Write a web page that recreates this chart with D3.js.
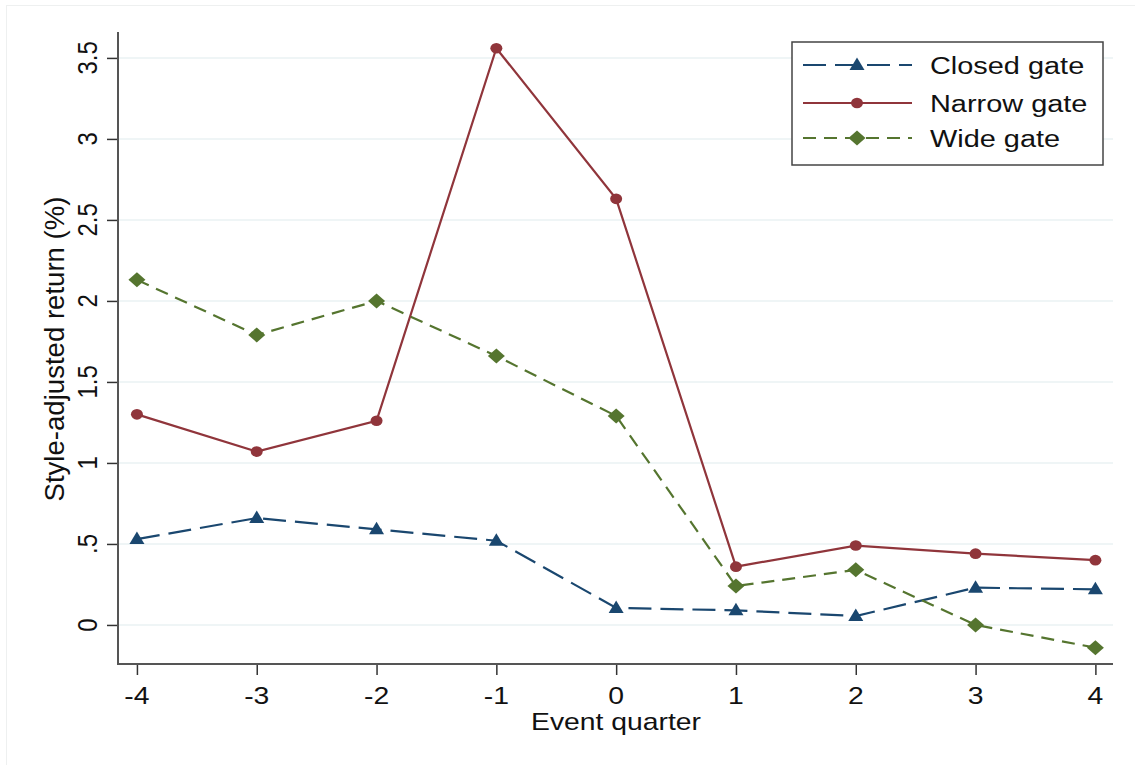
<!DOCTYPE html>
<html>
<head>
<meta charset="utf-8">
<script src="https://cdn.jsdelivr.net/npm/d3@7"></script>
<style>
  html, body { margin: 0; padding: 0; background: #fff; }
  svg { display: block; }
  text { font-family: "Liberation Sans", Arial, sans-serif; fill: #111; }
</style>
</head>
<body>
<svg id="chart" width="1135" height="765"></svg>
<script>
// ---- data ----
const quarters = [-4, -3, -2, -1, 0, 1, 2, 3, 4];
const closedGate = [0.53, 0.66, 0.59, 0.52, 0.105, 0.09, 0.055, 0.23, 0.22];
const narrowGate = [1.30, 1.07, 1.26, 3.56, 2.63, 0.36, 0.49, 0.44, 0.40];
const wideGate   = [2.13, 1.79, 2.00, 1.66, 1.29, 0.24, 0.34, 0.00, -0.14];
const yTicks = [0, 0.5, 1, 1.5, 2, 2.5, 3, 3.5];
const yTickLabels = ["0", ".5", "1", "1.5", "2", "2.5", "3", "3.5"];
const xTicks = [-4, -3, -2, -1, 0, 1, 2, 3, 4];
const seriesNames = ["Closed gate", "Narrow gate", "Wide gate"];

(function () {
const SX = 1.18; // horizontal text stretch of the original picture
const svg = d3.select("#chart");

// faint outer frame
svg.append("line").attr("x1", 6).attr("x2", 1135).attr("y1", 5.5).attr("y2", 5.5)
  .attr("stroke", "#eef0f0").attr("stroke-width", 1);
svg.append("line").attr("x1", 6.5).attr("x2", 6.5).attr("y1", 5).attr("y2", 765)
  .attr("stroke", "#eef0f0").attr("stroke-width", 1);

const pLeft = 118, pRight = 1113, pTop = 32, pBottom = 664;
const x = d3.scaleLinear().domain([-4.158, 4.147]).range([pLeft, pRight]);
const y = d3.scaleLinear().domain([-0.241, 3.66]).range([pBottom, pTop]);

// gridlines
svg.append("g").selectAll("line").data(yTicks).join("line")
  .attr("x1", pLeft).attr("x2", pRight)
  .attr("y1", d => y(d)).attr("y2", d => y(d))
  .attr("stroke", "#eaf2f3").attr("stroke-width", 1.5);

// axes
const yAxis = d3.axisLeft(y).tickValues(yTicks).tickSize(11).tickFormat("");
const gy = svg.append("g").attr("transform", `translate(${pLeft},0)`).call(yAxis);
gy.select(".domain").remove();
gy.selectAll(".tick line").attr("stroke", "#333").attr("stroke-width", 1.5);

const xAxis = d3.axisBottom(x).tickValues(xTicks).tickSize(11).tickFormat("");
const gx = svg.append("g").attr("transform", `translate(0,${pBottom})`).call(xAxis);
gx.select(".domain").remove();
gx.selectAll(".tick line").attr("stroke", "#333").attr("stroke-width", 1.5);

// axis lines
svg.append("path")
  .attr("d", `M${pLeft},${pTop}V${pBottom}H${pRight}`)
  .attr("fill", "none").attr("stroke", "#555").attr("stroke-width", 2);

// y tick labels (rotated)
svg.append("g").selectAll("text").data(yTicks).join("text")
  .attr("transform", (d) => `translate(97,${y(d)}) scale(${SX},1) rotate(-90)`)
  .attr("text-anchor", "middle")
  .attr("font-size", 24)
  .text((d, i) => yTickLabels[i]);

// x tick labels
svg.append("g").selectAll("text").data(xTicks).join("text")
  .attr("transform", d => `translate(${x(d)},704) scale(${SX},1)`)
  .attr("text-anchor", "middle")
  .attr("font-size", 24)
  .text(d => d);

// axis titles
svg.append("text")
  .attr("transform", `translate(616,730) scale(${SX},1)`)
  .attr("text-anchor", "middle").attr("font-size", 24)
  .text("Event quarter");
svg.append("text")
  .attr("transform", `translate(64,349) scale(${SX},1) rotate(-90)`)
  .attr("text-anchor", "middle").attr("font-size", 24)
  .attr("textLength", 305).attr("lengthAdjust", "spacingAndGlyphs")
  .text("Style-adjusted return (%)");

// series
const series = [
  { name: seriesNames[0], values: closedGate, color: "#1a476f", dash: "23 9", marker: "triangle" },
  { name: seriesNames[1], values: narrowGate, color: "#90353b", dash: null, marker: "circle" },
  { name: seriesNames[2], values: wideGate, color: "#55752f", dash: "13 8", marker: "diamond" }
];

function drawMarker(g, type, cx, cy, color) {
  if (type === "circle") {
    g.append("ellipse").attr("cx", cx).attr("cy", cy).attr("rx", 6).attr("ry", 5.3).attr("fill", color);
  } else if (type === "triangle") {
    g.append("path").attr("d", `M${cx},${cy - 7.5}L${cx + 7.5},${cy + 5}L${cx - 7.5},${cy + 5}Z`).attr("fill", color);
  } else {
    g.append("path").attr("d", `M${cx},${cy - 7.5}L${cx + 8.5},${cy}L${cx},${cy + 7.5}L${cx - 8.5},${cy}Z`).attr("fill", color);
  }
}

const line = d3.line().x((d, i) => x(quarters[i])).y(d => y(d));
series.forEach(s => {
  const g = svg.append("g");
  g.append("path").datum(s.values)
    .attr("d", line)
    .attr("fill", "none").attr("stroke", s.color).attr("stroke-width", 2.2)
    .attr("stroke-dasharray", s.dash);
  s.values.forEach((v, i) => drawMarker(g, s.marker, x(quarters[i]), y(v), s.color));
});

// legend
const lg = svg.append("g");
lg.append("rect").attr("x", 792).attr("y", 42).attr("width", 311).attr("height", 123)
  .attr("fill", "#fff").attr("stroke", "#444").attr("stroke-width", 1.5);
const rowY = [65, 103, 138];
series.forEach((s, i) => {
  lg.append("line").attr("x1", 803).attr("x2", 912).attr("y1", rowY[i]).attr("y2", rowY[i])
    .attr("stroke", s.color).attr("stroke-width", 2.2)
    .attr("stroke-dasharray", s.dash);
  drawMarker(lg, s.marker, 857, rowY[i], s.color);
  lg.append("text")
    .attr("transform", `translate(930,${rowY[i] + 9}) scale(${SX},1)`)
    .attr("font-size", 24.5)
    .text(s.name);
});
})();
</script>
</body>
</html>
